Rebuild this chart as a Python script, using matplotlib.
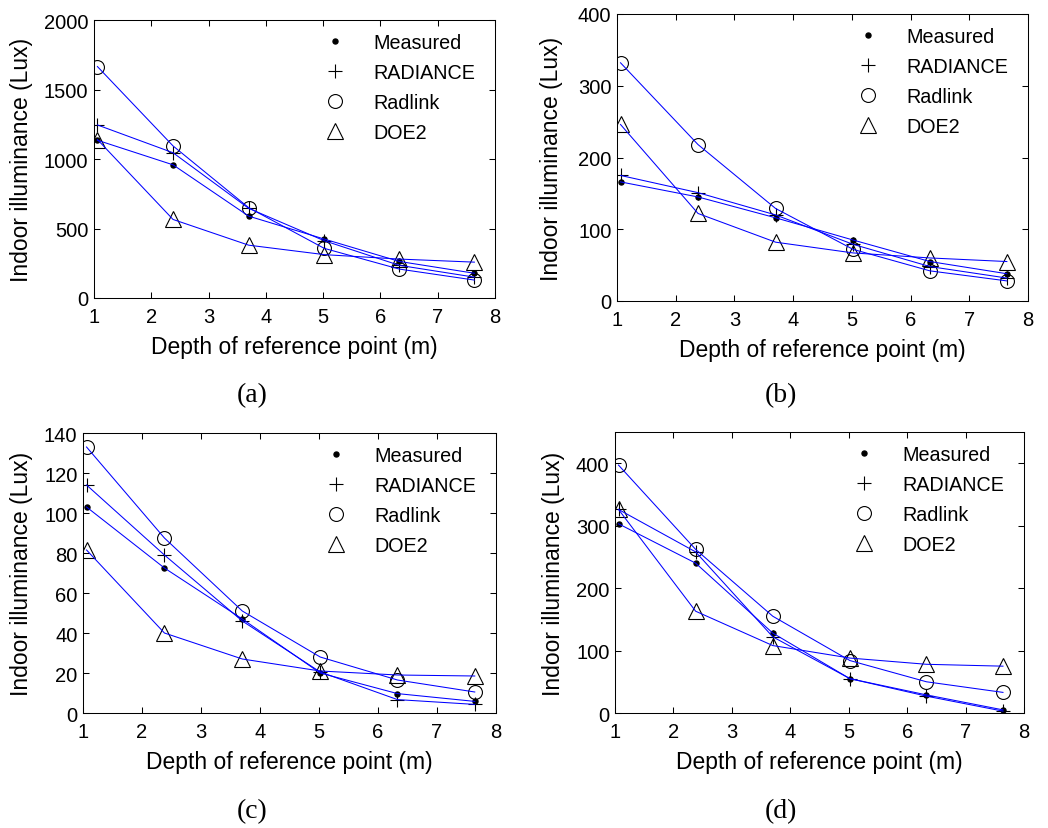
import matplotlib
matplotlib.use("Agg")
import matplotlib.pyplot as plt

plt.rcParams['font.family'] = ['Liberation Sans', 'DejaVu Sans']

depth = [1.06, 2.38, 3.70, 5.02, 6.33, 7.64]
series_names = ["Measured", "RADIANCE", "Radlink", "DOE2"]

# Panel (a)
a_measured = [1135, 958, 589, 424, 263, 178]
a_radiance = [1245, 1045, 645, 412, 235, 150]
a_radlink = [1665, 1094, 650, 357, 208, 129]
a_doe2 = [1140, 565, 380, 312, 280, 258]

# Panel (b)
b_measured = [166, 145, 116, 85, 55, 38]
b_radiance = [175, 151, 120, 79, 48, 32]
b_radlink = [332, 218, 129, 72, 42, 28]
b_doe2 = [246, 122, 82, 67, 60, 55]

# Panel (c)
c_measured = [103, 72.5, 47, 20, 9.7, 5.8]
c_radiance = [114, 79, 46, 20.5, 6.7, 4.3]
c_radlink = [133, 87.5, 51, 28, 16.5, 10.5]
c_doe2 = [81.5, 40, 27, 21, 19, 18.5]

# Panel (d)
d_measured = [303, 240, 128, 55, 29, 5]
d_radiance = [326, 258, 122, 55, 27, 3]
d_radlink = [397, 262, 155, 84, 50, 33]
d_doe2 = [326, 163, 108, 88, 78, 75]

panel_labels = ["(a)", "(b)", "(c)", "(d)"]
y_limits = [(0, 2000), (0, 400), (0, 140), (0, 450)]
y_ticks = [[0, 500, 1000, 1500, 2000], [0, 100, 200, 300, 400],
           [0, 20, 40, 60, 80, 100, 120, 140], [0, 100, 200, 300, 400]]
x_ticks = [1, 2, 3, 4, 5, 6, 7, 8]

data = [
    [a_measured, a_radiance, a_radlink, a_doe2],
    [b_measured, b_radiance, b_radlink, b_doe2],
    [c_measured, c_radiance, c_radlink, c_doe2],
    [d_measured, d_radiance, d_radlink, d_doe2],
]

W, H = 1048, 829
# axes boxes in pixels: left, top, right, bottom
boxes_px = [
    (94, 21, 495, 299),
    (617, 15, 1028, 302),
    (83, 434, 496, 714),
    (615, 433, 1024, 714),
]
ylabel_right_px = [33, 563, 33, 565]
label_center_px = [(252, 396), (781, 396), (252, 812), (781, 812)]

marker_styles = [
    dict(marker='o', markersize=3.6, markerfacecolor='black', markeredgecolor='black'),
    dict(marker='+', markersize=10, markeredgecolor='black', markeredgewidth=0.8),
    dict(marker='o', markersize=10, markerfacecolor='none', markeredgecolor='black', markeredgewidth=0.8),
    dict(marker='^', markersize=11, markerfacecolor='none', markeredgecolor='black', markeredgewidth=0.8),
]

fig = plt.figure(figsize=(W / 100, H / 100), dpi=100)

for i in range(4):
    l, t, r, b = boxes_px[i]
    aw, ah = r - l, b - t
    ax = fig.add_axes([l / W, 1 - b / H, aw / W, ah / H])
    for vals, name, ms in zip(data[i], series_names, marker_styles):
        ax.plot(depth, vals, linestyle='none', label=name, **ms)
    for vals in data[i]:
        ax.plot(depth, vals, color='#0000ff', linewidth=0.75)
    ax.set_xlim(1, 8)
    ax.set_ylim(*y_limits[i])
    ax.set_xticks(x_ticks)
    ax.set_yticks(y_ticks[i])
    ax.tick_params(direction='in', top=True, right=True, labelsize=14.5, length=4,
                   width=0.75, colors='black')
    ax.tick_params(axis='x', pad=6.5)
    ax.tick_params(axis='y', pad=4)
    ax.set_xlabel("Depth of reference point (m)", fontsize=16.5)
    ax.set_ylabel("Indoor illuminance (Lux)", fontsize=16.5)
    ax.xaxis.set_label_coords(0.5, -37 / ah)
    ax.yaxis.set_label_coords((ylabel_right_px[i] - l) / aw, 0.5)
    for s in ax.spines.values():
        s.set_linewidth(0.75)
    ax.legend(loc='upper right', frameon=False, fontsize=14.2, handlelength=2.0,
              handletextpad=0.93, labelspacing=0.55, borderpad=0, borderaxespad=0,
              bbox_to_anchor=(1 - 20 / aw, 1 - 13 / ah))
    cx, cy = label_center_px[i]
    fig.text(cx / W, 1 - cy / H, panel_labels[i], fontsize=20,
             family=['Liberation Serif', 'DejaVu Serif'], ha='center', va='center')

fig.savefig("out.png", dpi=100)
